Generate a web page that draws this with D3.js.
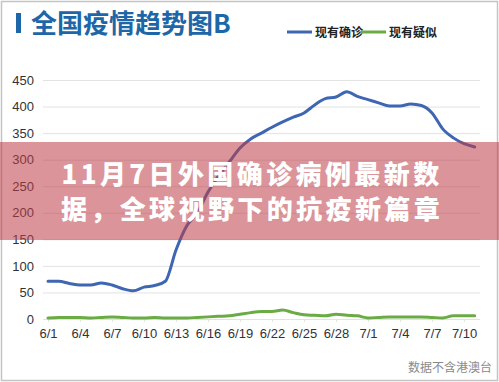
<!DOCTYPE html>
<html><head><meta charset="utf-8">
<script src="https://cdn.jsdelivr.net/npm/d3@7"></script>
<style>html,body{margin:0;padding:0;background:#fff;}svg{display:block;}</style>
</head><body>
<script>
const dates = ["6/1","6/2","6/3","6/4","6/5","6/6","6/7","6/8","6/9","6/10","6/11","6/12","6/13","6/14","6/15","6/16","6/17","6/18","6/19","6/20","6/21","6/22","6/23","6/24","6/25","6/26","6/27","6/28","6/29","6/30","7/1","7/2","7/3","7/4","7/5","7/6","7/7","7/8","7/9","7/10","7/11"];
const confirmed = [71,71,67,64,64,68,64,57,53,60,63,71,130,175,200,239,270,296,322,339,350,361,371,380,388,403,415,418,428,419,413,407,401,401,405,402,388,358,341,330,324];
const suspected = [2,3,3,3,2,3,4,3,2,2,3,2,2,2,3,4,5,6,9,12,14,14,17,12,8,7,6,9,7,6,2,3,4,4,4,4,3,2,6,6,6];
const xTickLabels = ["6/1","6/4","6/7","6/10","6/13","6/16","6/19","6/22","6/25","6/28","7/1","7/4","7/7","7/10"];
const yTicks = [0,50,100,150,200,250,300,350,400,450];
const seriesNames = ["现有确诊","现有疑似"];
const titleText = "全国疫情趋势图B";
const bannerLines = ["11月7日外国确诊病例最新数","据，全球视野下的抗疫新篇章"];
const noteText = "数据不含港澳台";

const W = 499, H = 382;
const svg = d3.select("body").append("svg").attr("width", W).attr("height", H);
const font = "'Noto Sans CJK SC','Liberation Sans',Arial,sans-serif";

svg.append("rect").attr("x",1.5).attr("y",1.5).attr("width",W-3).attr("height",H-3)
  .attr("fill","#fff").attr("stroke","#c4c4c4").attr("stroke-width",1.5);

// title
svg.append("rect").attr("x",16).attr("y",13).attr("width",5).attr("height",20).attr("fill","#1d67a8");
svg.append("text").attr("x",31).attr("y",33).text(titleText)
  .attr("font-family",font).attr("font-size",26).attr("font-weight",700).attr("fill","#1d67a8");

// legend
const colors = ["#3e66b3","#6aab45"];
const legX = [287, 361];
seriesNames.forEach((n,i)=>{
  svg.append("line").attr("x1",legX[i]).attr("x2",legX[i]+25).attr("y1",32).attr("y2",32)
    .attr("stroke",colors[i]).attr("stroke-width",3);
  svg.append("text").attr("x",legX[i]+28).attr("y",36.5).text(n)
    .attr("font-family",font).attr("font-size",12).attr("font-weight",700).attr("fill","#222");
});

const x = d3.scaleLinear().domain([0, dates.length-1]).range([48, 474.7]);
const y = d3.scaleLinear().domain([0,450]).range([319, 80]);

// grid
const yAxis = d3.axisLeft(y).tickValues(yTicks).tickSize(-(480-43)).tickPadding(9);
const gy = svg.append("g").attr("transform","translate(43,0)").call(yAxis);
gy.select(".domain").remove();
gy.selectAll(".tick line").attr("stroke","#e2e2e2").attr("stroke-width",1);
gy.selectAll(".tick text").attr("font-family","'Liberation Sans',Arial,sans-serif").attr("font-size",13).attr("fill","#333");

const xAxis = d3.axisBottom(x).tickValues(xTickLabels.map(l=>dates.indexOf(l)))
  .tickFormat(i=>dates[i]).tickSize(3).tickPadding(7);
const gx = svg.append("g").attr("transform","translate(0,319)").call(xAxis);
gx.select(".domain").remove();
gx.selectAll(".tick line").attr("stroke","#e2e2e2");
gx.selectAll(".tick text").attr("font-family","'Liberation Sans',Arial,sans-serif").attr("font-size",13).attr("fill","#333");

const line = d3.line().x((d,i)=>x(i)).y(d=>y(d)).curve(d3.curveMonotoneX);
[confirmed, suspected].forEach((s,i)=>{
  svg.append("path").datum(s).attr("d",line).attr("fill","none")
    .attr("stroke",colors[i]).attr("stroke-width",3).attr("stroke-linejoin","round").attr("stroke-linecap","round");
});

// note
svg.append("text").attr("x",492).attr("y",372).attr("text-anchor","end").text(noteText)
  .attr("font-family",font).attr("font-size",12).attr("fill","#8a8a8a");

// banner overlay
svg.append("rect").attr("x",0).attr("y",142).attr("width",W).attr("height",98)
  .attr("fill","rgb(190,60,70)").attr("fill-opacity",0.55);
bannerLines.forEach((t,i)=>{
  svg.append("text").attr("x",252).attr("y",184+i*35).attr("text-anchor","middle").text(t)
    .attr("font-family",font).attr("font-size",26).attr("font-weight",900)
    .attr("letter-spacing",3.4).attr("fill","#fff");
});
</script>
</body></html>
